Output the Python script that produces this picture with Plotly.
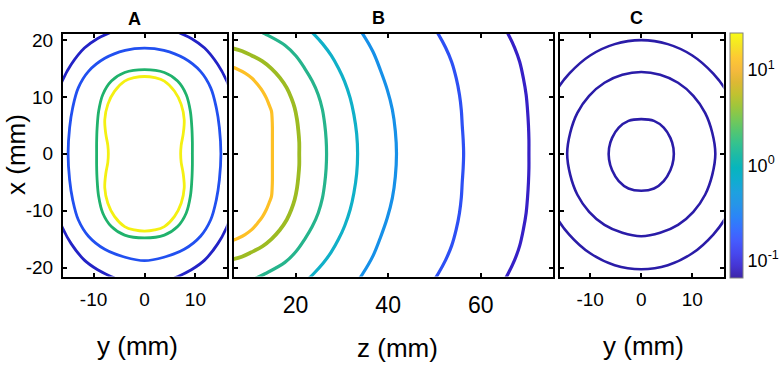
import plotly.graph_objects as go

W, H = 780, 373

# ---------------- data (mm) ----------------
# Panel A : x (vertical) versus y (horizontal)
a_yellow_y = [0, 2, 3.9, 5.9, 7.2, 7.8, 7.6, 7.2, 7.1, 7.2, 7.6, 7.8, 7.2, 5.9, 3.9, 2, 0,
              -2, -3.9, -5.9, -7.2, -7.8, -7.6, -7.2, -7.1, -7.2, -7.6, -7.8, -7.2, -5.9, -3.9, -2, 0]
a_yellow_x = [13.6, 13.4, 12.8, 11.0, 8.7, 6.0, 3.5, 1.5, 0, -1.5, -3.5, -6.0, -8.7, -11.0, -12.8, -13.4, -13.6,
              -13.4, -12.8, -11.0, -8.7, -6.0, -3.5, -1.5, 0, 1.5, 3.5, 6.0, 8.7, 11.0, 12.8, 13.4, 13.6]

a_green_y = [0, 3.9, 6.5, 8.2, 9.0, 9.3, 9.4, 9.4, 9.4, 9.3, 9.0, 8.2, 6.5, 3.9, 0,
             -3.9, -6.5, -8.2, -9.0, -9.3, -9.4, -9.4, -9.4, -9.3, -9.0, -8.2, -6.5, -3.9, 0]
a_green_x = [14.8, 14.3, 12.8, 10.4, 7.5, 4.6, 2, 0, -2, -4.6, -7.5, -10.4, -12.8, -14.3, -14.8,
             -14.3, -12.8, -10.4, -7.5, -4.6, -2, 0, 2, 4.6, 7.5, 10.4, 12.8, 14.3, 14.8]

a_blue_y = [0, 3.8, 7.8, 11.0, 13.0, 14.1, 14.7, 15.0, 14.7, 14.1, 13.0, 11.0, 7.8, 3.8, 0,
            -3.8, -7.8, -11.0, -13.0, -14.1, -14.7, -15.0, -14.7, -14.1, -13.0, -11.0, -7.8, -3.8, 0]
a_blue_x = [18.6, 18.2, 16.8, 14.5, 11.6, 8.1, 4.6, 0, -4.6, -8.1, -11.6, -14.5, -16.8, -18.2, -18.8,
            -18.2, -16.8, -14.5, -11.6, -8.1, -4.6, 0, 4.6, 8.1, 11.6, 14.5, 16.8, 18.2, 18.6]

a_dark_y = [0, 3.5, 6.8, 9.2, 11.8, 14.4, 16.1, 17.5, 18.5, 18.8, 18.5, 17.5, 16.1, 14.4, 11.8, 9.2, 6.8, 3.5, 0,
            -3.5, -6.8, -9.2, -11.8, -14.4, -16.1, -17.5, -18.5, -18.8, -18.5, -17.5, -16.1, -14.4, -11.8, -9.2, -6.8, -3.5, 0]
a_dark_x = [23.0, 22.6, 21.3, 20.3, 18.6, 15.7, 12.9, 9.5, 5, 0, -5, -9.5, -13.0, -15.8, -18.7, -20.4, -21.5, -22.7, -23.1,
            -22.7, -21.5, -20.4, -18.7, -15.8, -13.0, -9.5, -5, 0, 5, 9.5, 12.9, 15.7, 18.6, 20.3, 21.3, 22.6, 23.0]

# Panel B : x (vertical) versus z (horizontal)
b_orange_z = [4.5, 6.2, 7.7, 9.1, 10.6, 11.9, 12.9, 13.7, 14.3, 14.8, 14.95, 15.0, 15.0, 15.0,
              15.0, 15.0, 14.95, 14.8, 14.3, 13.7, 12.9, 11.9, 10.6, 9.1, 7.7, 6.2, 4.5]
b_orange_x = [15.6, 15.3, 14.8, 14.2, 13.3, 12.1, 11.0, 9.8, 8.6, 7.5, 6.0, 4.6, 2.3, 0,
              -2.3, -4.6, -6.0, -7.5, -8.6, -9.8, -11.0, -12.1, -13.3, -14.2, -14.8, -15.3, -15.6]

b_olive_z = [4.5, 6.2, 8.4, 10.5, 12.8, 14.8, 16.6, 18.1, 19.1, 19.8, 20.3, 20.6, 20.8, 20.8,
             20.8, 20.6, 20.3, 19.8, 19.1, 18.1, 16.6, 14.8, 12.8, 10.5, 8.4, 6.2, 4.5]
b_olive_x = [18.9, 18.6, 18.1, 17.3, 16.3, 15.0, 13.4, 11.6, 9.8, 8.1, 6.1, 4.1, 2.0, 0,
             -2.0, -4.1, -6.1, -8.1, -9.8, -11.6, -13.4, -15.0, -16.3, -17.3, -18.1, -18.6, -18.9]

b_green_z = [9.5, 13.4, 17.7, 20.1, 22.0, 23.6, 24.9, 25.8, 26.3, 26.6, 26.7,
             26.6, 26.3, 25.8, 24.9, 23.6, 22.0, 20.1, 17.7, 13.4, 9.5]
b_green_x = [22.6, 21.1, 19.1, 17.2, 15.0, 12.8, 10.4, 7.8, 5.2, 2.6, 0,
             -2.6, -5.2, -7.8, -10.4, -12.8, -15.0, -17.2, -19.1, -21.1, -22.6]

b_cyan_z = [21.2, 23.9, 25.9, 27.7, 29.3, 30.6, 31.8, 32.6, 33.2, 33.4,
            33.2, 32.6, 31.8, 30.6, 29.3, 27.7, 25.9, 23.9, 21.2]
b_cyan_x = [23.2, 21.1, 19.3, 17.3, 15.0, 12.7, 9.8, 6.9, 3.5, 0,
            -3.5, -6.9, -9.8, -12.7, -15.0, -17.3, -19.3, -21.1, -23.2]

b_light_z = [32.4, 34.5, 36.7, 38.3, 39.8, 40.9, 41.55, 41.8, 41.55, 40.9, 39.8, 38.3, 36.7, 34.5, 32.4]
b_light_x = [23.5, 21.1, 18.0, 14.8, 11.3, 7.8, 4.0, 0, -4.0, -7.8, -11.3, -14.8, -18.0, -21.1, -23.5]

b_blue_z = [48.5, 50.8, 52.4, 53.7, 54.7, 55.4, 55.8, 56.0, 56.2, 56.3,
            56.2, 56.0, 55.8, 55.4, 54.7, 53.7, 52.4, 50.8, 48.5]
b_blue_x = [24, 21.1, 18.7, 16.2, 13.3, 10.4, 7.7, 5, 2.5, 0,
            -2.5, -5, -7.7, -10.4, -13.3, -16.2, -18.7, -21.1, -24]

b_dark_z = [63.9, 65.9, 67.3, 68.4, 69.2, 69.8, 70.1, 70.3, 70.4, 70.4,
            70.4, 70.3, 70.1, 69.8, 69.2, 68.4, 67.3, 65.9, 63.9]
b_dark_x = [24, 21.1, 18.7, 16.2, 13.3, 10.4, 7.7, 5, 2.5, 0,
            -2.5, -5, -7.7, -10.4, -13.3, -16.2, -18.7, -21.1, -24]

# Panel C : x (vertical) versus y (horizontal)
c_inner_y = [0, 2.5, 4.4, 5.7, 6.3, 6.3, 5.7, 4.4, 2.5, 0, -2.5, -4.4, -5.7, -6.3, -6.3, -5.7, -4.4, -2.5, 0]
c_inner_x = [6.1, 5.8, 4.6, 2.8, 1.0, -1.0, -2.9, -4.8, -6.1, -6.5, -6.1, -4.8, -2.9, -1.0, 1.0, 2.8, 4.6, 5.8, 6.1]

c_mid_y = [0, 3.7, 7.2, 10.2, 12.5, 13.9, 14.5, 13.9, 12.5, 10.2, 7.2, 3.7, 0,
           -3.7, -7.2, -10.2, -12.5, -13.9, -14.5, -13.9, -12.5, -10.2, -7.2, -3.7, 0]
c_mid_x = [14.4, 13.9, 12.5, 10.2, 7.2, 3.7, 0, -3.7, -7.2, -10.2, -12.5, -13.9, -14.5,
           -13.9, -12.5, -10.2, -7.2, -3.7, 0, 3.7, 7.2, 10.2, 12.5, 13.9, 14.4]

c_outer_y = [0, 5.2, 10.0, 14.1, 16.9, 18.7, 19.8, 20.2, 19.8, 18.7, 16.9, 14.1, 10.0, 5.2, 0,
             -5.2, -10.0, -14.1, -16.9, -18.7, -19.8, -20.2, -19.8, -18.7, -16.9, -14.1, -10.0, -5.2, 0]
c_outer_x = [20.0, 19.3, 17.3, 14.1, 10.7, 7.0, 2.8, 0, -2.8, -7.0, -10.7, -14.2, -17.5, -19.6, -20.3,
             -19.6, -17.5, -14.2, -10.7, -7.0, -2.8, 0, 2.8, 7.0, 10.7, 14.1, 17.3, 19.3, 20.0]

# tick labels
ab_x_tickvals = [-10, 0, 10]
ab_x_ticktext = ["-10", "0", "10"]
b_tickvals = [20, 40, 60]
b_ticktext = ["20", "40", "60"]
y_tickvals = [20, 10, 0, -10, -20]
y_ticktext = ["20", "10", "0", "-10", "-20"]
cb_tickvals = [-1, 0, 1]
cb_ticktext = ["10<sup>-1</sup>", "10<sup>0</sup>", "10<sup>1</sup>"]
cb_log_min, cb_log_max = -1.18, 1.39

PARULA = [
    [0.00, "#3e26a8"], [0.05, "#4535d4"], [0.10, "#4748ee"], [0.15, "#455bfd"],
    [0.20, "#3870ff"], [0.25, "#2b85f7"], [0.30, "#2695e8"], [0.35, "#1ea1df"],
    [0.40, "#0fadcf"], [0.45, "#07b5bd"], [0.50, "#1dbaa6"], [0.55, "#35c28e"],
    [0.60, "#54c671"], [0.65, "#78c856"], [0.70, "#9ec63c"], [0.75, "#c1c230"],
    [0.80, "#deb834"], [0.85, "#f6ba3d"], [0.90, "#fdc934"], [0.95, "#f5e425"],
    [1.00, "#f9fb15"],
]

FONT = "Liberation Sans, Arial, sans-serif"

fig = go.Figure()


def add_line(xs, ys, color, width, xa, ya):
    fig.add_trace(go.Scatter(
        x=xs, y=ys, mode="lines",
        line=dict(color=color, width=width, shape="spline", smoothing=1.0),
        xaxis=xa, yaxis=ya, hoverinfo="skip", showlegend=False))


# Panel A
add_line(a_dark_y, a_dark_x, "#2323c6", 2.8, "x", "y")
add_line(a_blue_y, a_blue_x, "#2150f0", 2.8, "x", "y")
add_line(a_green_y, a_green_x, "#20b26c", 2.8, "x", "y")
add_line(a_yellow_y, a_yellow_x, "#f4f012", 2.8, "x", "y")

# Panel B
add_line(b_dark_z, b_dark_x, "#3620c6", 3.2, "x2", "y2")
add_line(b_blue_z, b_blue_x, "#2d50f4", 3.2, "x2", "y2")
add_line(b_light_z, b_light_x, "#1690e8", 3.2, "x2", "y2")
add_line(b_cyan_z, b_cyan_x, "#10b0c8", 3.2, "x2", "y2")
add_line(b_green_z, b_green_x, "#26b48c", 3.2, "x2", "y2")
add_line(b_olive_z, b_olive_x, "#9dbb22", 3.8, "x2", "y2")
add_line(b_orange_z, b_orange_x, "#fdc026", 3.2, "x2", "y2")

# Panel C
add_line(c_outer_y, c_outer_x, "#2a1ca8", 2.6, "x3", "y3")
add_line(c_mid_y, c_mid_x, "#2a1ca8", 2.6, "x3", "y3")
add_line(c_inner_y, c_inner_x, "#2a1ca8", 2.6, "x3", "y3")

# colour bar carrier
fig.add_trace(go.Scatter(
    x=[0], y=[0], mode="markers", xaxis="x3", yaxis="y3", hoverinfo="skip", showlegend=False,
    marker=dict(size=1, opacity=0, color=[0], colorscale=PARULA, cmin=cb_log_min, cmax=cb_log_max,
                showscale=True,
                colorbar=dict(x=729.5 / W, xanchor="left", y=(H - 153.3) / H, yanchor="middle",
                              len=248 / H, lenmode="fraction", thickness=13, thicknessmode="pixels",
                              xpad=0, ypad=0, outlinewidth=1, outlinecolor="#808080",
                              tickvals=cb_tickvals, ticktext=cb_ticktext, ticks="",
                              tickfont=dict(family=FONT, size=18, color="black")))))


def px_x(p):
    return p / W


def px_y(p):
    return (H - p) / H


ydom = [px_y(276.3), px_y(30.3)]
yrange = [-21.6, 21.1]

frame = dict(showline=True, linecolor="black", linewidth=2, mirror="ticks", ticks="inside",
             ticklen=4, tickwidth=1.5, tickcolor="black", showgrid=False, zeroline=False,
             fixedrange=True)

fig.update_layout(
    width=W, height=H, autosize=False,
    margin=dict(l=0, r=0, t=0, b=0),
    paper_bgcolor="white", plot_bgcolor="white",
    font=dict(family=FONT, color="black"),
    xaxis=dict(domain=[px_x(63), px_x(226.5)], range=[-16.0, 16.1], anchor="y",
               tickvals=ab_x_tickvals, ticktext=ab_x_ticktext,
               tickfont=dict(size=19), ticklabelstandoff=5, **frame),
    yaxis=dict(domain=ydom, range=yrange, anchor="x",
               tickvals=y_tickvals, ticktext=y_ticktext,
               tickfont=dict(size=19), ticklabelstandoff=4, **frame),
    xaxis2=dict(domain=[px_x(233.5), px_x(553)], range=[6.6, 75.6], anchor="y2",
                tickvals=b_tickvals, ticktext=b_ticktext,
                tickfont=dict(size=23), ticklabelstandoff=7, **frame),
    yaxis2=dict(domain=ydom, range=yrange, anchor="x2", tickvals=y_tickvals,
                showticklabels=False, **frame),
    xaxis3=dict(domain=[px_x(559.5), px_x(723.5)], range=[-16.0, 16.1], anchor="y3",
                tickvals=ab_x_tickvals, ticktext=ab_x_ticktext,
                tickfont=dict(size=19), ticklabelstandoff=5, **frame),
    yaxis3=dict(domain=ydom, range=yrange, anchor="x3", tickvals=y_tickvals,
                showticklabels=False, **frame),
)

ann = [
    ("<b>A</b>", 134, 15, 18, 0),
    ("<b>B</b>", 378, 14, 18, 0),
    ("<b>C</b>", 636, 14, 18, 0),
    ("x (mm)", 16, 153, 26, -90),
    ("y (mm)", 137, 347, 26, 0),
    ("z (mm)", 397, 349, 26, 0),
    ("y (mm)", 643, 347, 26, 0),
]
for text, xp, yp, size, ang in ann:
    fig.add_annotation(text=text, x=px_x(xp), y=px_y(yp), xref="paper", yref="paper",
                       xanchor="center", yanchor="middle", showarrow=False, textangle=ang,
                       font=dict(family=FONT, size=size, color="black"))

fig.write_html("out.html", config={"displayModeBar": False},
               post_script="document.body.style.margin='0';document.body.style.overflow='hidden';")
